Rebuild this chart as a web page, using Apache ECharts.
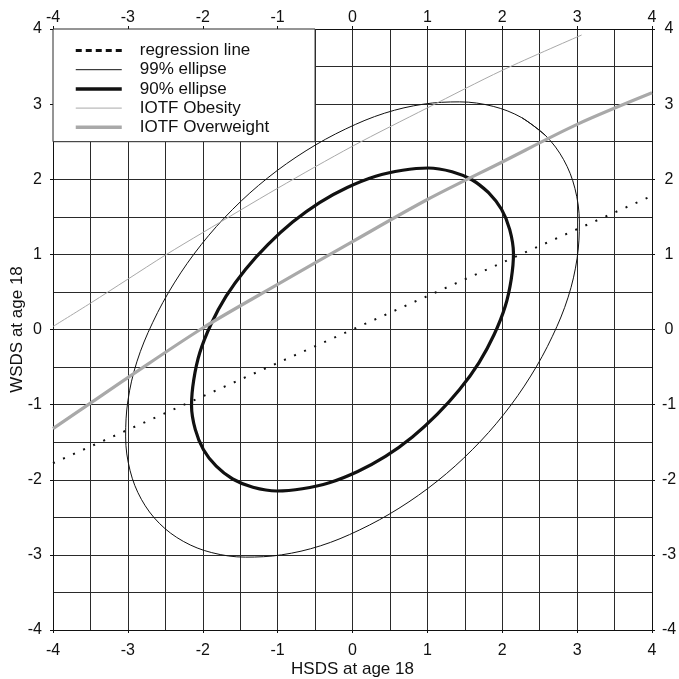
<!DOCTYPE html>
<html>
<head>
<meta charset="utf-8">
<title>WSDS vs HSDS at age 18</title>
<script src="https://cdn.jsdelivr.net/npm/echarts@6/dist/echarts.min.js"></script>
<style>
  html, body { margin: 0; padding: 0; background: #fff; }
  #chart { width: 679px; height: 679px; }
</style>
</head>
<body>
<div id="chart"></div>
<script>
// Axis range and tick spacing (SD scores)
const axisMin = -4;
const axisMax = 4;
const labelStep = 1;

// Regression of WSDS on HSDS
const regressionLine = [[-4, -1.78], [4, 1.78]];

// 99% and 90% reference ellipses, traced around the loop (first points repeated to close it)
const ellipse99 = [
  [2.58, 2.58], [2.26, 2.82], [1.88, 2.97], [1.43, 3.03], [0.95, 3.00], [0.43, 2.88],
  [-0.09, 2.67], [-0.62, 2.38], [-1.13, 2.02], [-1.60, 1.60], [-2.02, 1.13], [-2.38, 0.62],
  [-2.67, 0.09], [-2.88, -0.43], [-3.00, -0.95], [-3.03, -1.43], [-2.97, -1.88], [-2.82, -2.26],
  [-2.58, -2.58], [-2.26, -2.82], [-1.88, -2.97], [-1.43, -3.03], [-0.95, -3.00], [-0.43, -2.88],
  [0.09, -2.67], [0.62, -2.38], [1.13, -2.02], [1.60, -1.60], [2.02, -1.13], [2.38, -0.62],
  [2.67, -0.09], [2.88, 0.43], [3.00, 0.95], [3.03, 1.43], [2.97, 1.88], [2.82, 2.26],
  [2.58, 2.58], [2.26, 2.82]
];
const ellipse90 = [
  [1.82, 1.82], [1.60, 1.99], [1.33, 2.10], [1.01, 2.15], [0.67, 2.12], [0.31, 2.04],
  [-0.07, 1.89], [-0.44, 1.69], [-0.80, 1.43], [-1.13, 1.13], [-1.43, 0.80], [-1.69, 0.44],
  [-1.89, 0.07], [-2.04, -0.31], [-2.12, -0.67], [-2.15, -1.01], [-2.10, -1.33], [-1.99, -1.60],
  [-1.82, -1.82], [-1.60, -1.99], [-1.33, -2.10], [-1.01, -2.15], [-0.67, -2.12], [-0.31, -2.04],
  [0.07, -1.89], [0.44, -1.69], [0.80, -1.43], [1.13, -1.13], [1.43, -0.80], [1.69, -0.44],
  [1.89, -0.07], [2.04, 0.31], [2.12, 0.67], [2.15, 1.01], [2.10, 1.33], [1.99, 1.60],
  [1.82, 1.82], [1.60, 1.99]
];

// IOTF cut-offs expressed as WSDS for each HSDS
const iotfObesity = [
  [-4, 0.04], [-3.5, 0.35], [-3, 0.67], [-2.5, 0.99], [-2, 1.29], [-1, 1.88],
  [0, 2.44], [1, 2.95], [2, 3.45], [3.06, 3.92]
];
const iotfOverweight = [
  [-4, -1.32], [-3.5, -0.98], [-3, -0.64], [-2, 0.02], [-1, 0.60], [0, 1.17],
  [1, 1.73], [2, 2.23], [3, 2.73], [4, 3.15]
];

// Box behind the key, in data units
const keyBox = { x0: -4, x1: -0.5, y0: 2.5, y1: 4 };

const FONT = '"Liberation Sans", Arial, Helvetica, sans-serif';
const GRID_COLOR = '#2a2a2a';
const INK = '#111';
const GREY = '#a9a9a9';

function baseAxis(extra) {
  return Object.assign({
    type: 'value',
    min: axisMin,
    max: axisMax,
    interval: labelStep,
    axisLine: { show: true, onZero: false, lineStyle: { color: INK, width: 1 } },
    axisTick: { show: true, length: 3, lineStyle: { color: INK } },
    axisLabel: { color: INK, fontSize: 16, fontFamily: FONT },
    splitLine: { show: false },
    minorTick: { show: false, splitNumber: 2 },
    minorSplitLine: { show: false }
  }, extra);
}

const gridLines = {
  splitLine: { show: true, lineStyle: { color: GRID_COLOR, width: 1 } },
  minorSplitLine: { show: true, lineStyle: { color: GRID_COLOR, width: 1 } }
};

const chart = echarts.init(document.getElementById('chart'), null, { renderer: 'canvas' });

chart.setOption({
  animation: false,
  backgroundColor: '#fff',
  grid: { left: 53, right: 27, top: 29, bottom: 49, containLabel: false, outerBoundsMode: 'none' },
  xAxis: [
    baseAxis(Object.assign({
      position: 'bottom',
      name: 'HSDS at age 18',
      nameLocation: 'middle',
      nameGap: 31,
      nameMoveOverlap: false,
      nameTextStyle: { color: INK, fontSize: 17, fontFamily: FONT },
      axisLabel: { color: INK, fontSize: 16, fontFamily: FONT, margin: 13 }
    }, gridLines)),
    baseAxis({
      position: 'top',
      axisLabel: { color: INK, fontSize: 16, fontFamily: FONT, margin: 3 }
    })
  ],
  yAxis: [
    baseAxis(Object.assign({
      position: 'left',
      name: 'WSDS at age 18',
      nameLocation: 'middle',
      nameGap: 27,
      nameMoveOverlap: false,
      nameRotate: 90,
      nameTextStyle: { color: INK, fontSize: 17, fontFamily: FONT },
      axisLabel: { color: INK, fontSize: 16, fontFamily: FONT, margin: 11 }
    }, gridLines)),
    baseAxis({
      position: 'right',
      axisLabel: { color: INK, fontSize: 16, fontFamily: FONT, margin: 17, align: 'center' }
    })
  ],
  legend: {
    orient: 'vertical',
    left: 74,
    top: 42,
    padding: 0,
    itemWidth: 46,
    itemHeight: 14,
    itemGap: 2.2,
    selectedMode: false,
    itemStyle: { opacity: 0 },
    textStyle: { color: INK, fontSize: 17, fontFamily: FONT, padding: [0, 0, 0, 13] },
    data: [
      { name: 'regression line', lineStyle: { type: [6, 4], width: 3, color: INK } },
      { name: '99% ellipse', lineStyle: { type: 'solid', width: 1, color: INK } },
      { name: '90% ellipse', lineStyle: { type: 'solid', width: 3.5, color: INK } },
      { name: 'IOTF Obesity', lineStyle: { type: 'solid', width: 1, color: GREY } },
      { name: 'IOTF Overweight', lineStyle: { type: 'solid', width: 3.5, color: GREY } }
    ]
  },
  series: [
    {
      name: 'regression line',
      type: 'line',
      data: regressionLine,
      symbol: 'none',
      lineStyle: { color: INK, width: 2, type: [2, 9] },
      markArea: {
        silent: true,
        itemStyle: { color: '#fff', borderColor: GRID_COLOR, borderWidth: 1 },
        data: [[{ coord: [keyBox.x0, keyBox.y1] }, { coord: [keyBox.x1, keyBox.y0] }]]
      },
      z: 3
    },
    {
      name: '99% ellipse',
      type: 'line',
      data: ellipse99,
      smooth: 0.35,
      symbol: 'none',
      lineStyle: { color: INK, width: 1 },
      z: 4
    },
    {
      name: '90% ellipse',
      type: 'line',
      data: ellipse90,
      smooth: 0.35,
      symbol: 'none',
      lineStyle: { color: INK, width: 3.2 },
      z: 4
    },
    {
      name: 'IOTF Obesity',
      type: 'line',
      data: iotfObesity,
      smooth: 0.3,
      symbol: 'none',
      lineStyle: { color: GREY, width: 1 },
      z: 4
    },
    {
      name: 'IOTF Overweight',
      type: 'line',
      data: iotfOverweight,
      smooth: 0.3,
      symbol: 'none',
      lineStyle: { color: GREY, width: 3.2 },
      z: 4
    }
  ]
});
</script>
</body>
</html>
